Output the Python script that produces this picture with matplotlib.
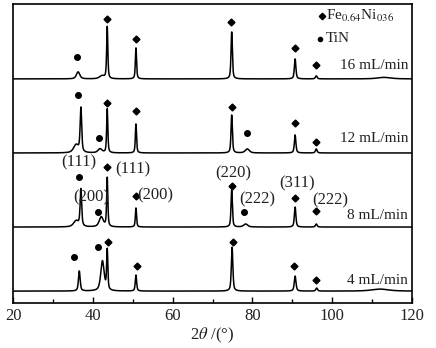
import numpy as np
import matplotlib
matplotlib.use("Agg")
import matplotlib.pyplot as plt
from matplotlib.ticker import MultipleLocator

plt.rcParams["font.family"] = ["Liberation Serif", "DejaVu Serif"]
plt.rcParams["mathtext.fontset"] = "stix"

# peak lists per flow rate: (2theta, height, fwhm); baseline offset of each trace
flows = ["16 mL/min", "12 mL/min", "8 mL/min", "4 mL/min"]
baselines = [224, 150, 76, 12]
peaks_16 = [(36.3, 7, 1.0), (42.3, 3, 1.5), (43.6, 52, 0.35), (50.8, 31, 0.35),
            (74.8, 47, 0.4), (90.7, 20, 0.45), (96.0, 3, 0.5), (113.0, 1.5, 4.0)]
peaks_12 = [(35.8, 8, 1.5), (37.0, 44, 0.45), (41.8, 4, 1.2), (43.6, 44, 0.35),
            (50.8, 29, 0.35), (74.8, 38, 0.4), (78.7, 4, 1.2), (90.7, 18, 0.45),
            (96.0, 4, 0.5)]
peaks_8 = [(35.8, 6, 1.5), (37.0, 37, 0.45), (42.1, 10, 1.2), (43.6, 49, 0.35),
           (50.8, 19, 0.35), (74.8, 37, 0.4), (78.3, 3, 1.2), (90.7, 20, 0.45),
           (96.0, 3, 0.5)]
peaks_4 = [(36.6, 20, 0.5), (42.4, 30, 1.0), (43.6, 40, 0.35), (50.8, 16, 0.4),
           (74.9, 44, 0.45), (90.7, 15, 0.5), (96.1, 3, 0.5), (112.0, 2, 5.0)]
peak_sets = [peaks_16, peaks_12, peaks_8, peaks_4]

# phase markers (2theta, height)
fe_marks = [[(43.6, 284), (50.8, 264), (74.7, 281), (90.6, 255), (96.0, 238)],
            [(43.6, 200), (50.8, 192), (74.8, 196), (90.7, 180), (96.0, 161)],
            [(43.6, 136), (50.8, 107), (74.8, 117), (90.7, 105), (96.0, 92)],
            [(43.8, 61), (51.1, 37), (75.1, 61), (90.4, 37), (95.9, 23)]]
tin_marks = [[(35.9, 246)],
             [(36.3, 208), (41.5, 165), (78.6, 170)],
             [(36.5, 126), (41.3, 91), (77.9, 91)],
             [(35.3, 46), (41.3, 56)]]
flow_label_y = [237, 164, 88, 23]

# crystal plane labels for 8 mL/min (2theta, height, text)
hkl = [(36.6, 141, "(111)"), (50.1, 134, "(111)"), (39.7, 106, "(200)"),
       (55.7, 108, "(200)"), (75.1, 130, "(220)"), (81.2, 104, "(222)"),
       (91.2, 120, "(311)"), (99.5, 103, "(222)")]


def pattern(x, peaks):
    y = np.zeros_like(x)
    for c, h, w in peaks:
        g = np.exp(-4 * np.log(2) * ((x - c) / w) ** 2)
        l = 1 / (1 + 4 * ((x - c) / w) ** 2)
        y += h * (0.4 * g + 0.6 * l)
    return y


tt = np.linspace(20, 120, 4000)
txt = "#222222"

fig = plt.figure(figsize=(4.36, 3.48), dpi=100)
ax = fig.add_axes([0.030, 0.129, 0.915, 0.860])

for i in range(4):
    ax.plot(tt, baselines[i] + pattern(tt, peak_sets[i]), color="black", lw=1.1)
    fx, fy = zip(*fe_marks[i])
    ax.plot(fx, fy, "D", color="black", ms=3.5, ls="none")
    cx, cy = zip(*tin_marks[i])
    ax.plot(cx, cy, "o", color="black", ms=4.0, ls="none")
    ax.text(119.0, flow_label_y[i], flows[i], ha="right", va="center",
            fontsize=11, color=txt)

for x, y, s in hkl:
    ax.text(x, y, s, ha="center", va="center", fontsize=12, color=txt)

# legend
ax.plot([97.4], [287], "D", color="black", ms=3.3)
ax.text(98.4, 287, "Fe$_{0.64}$Ni$_{036}$", ha="left", va="center",
        fontsize=11, color=txt)
ax.plot([96.9], [264], "o", color="black", ms=3.0)
ax.text(98.4, 264, "TiN", ha="left", va="center", fontsize=11, color=txt)

ax.set_xlim(20, 120)
ax.set_ylim(0, 299)
ax.xaxis.set_major_locator(MultipleLocator(20))
ax.xaxis.set_minor_locator(MultipleLocator(10))
ax.tick_params(axis="x", which="both", direction="in", top=False, labelsize=12,
               labelcolor=txt)
ax.tick_params(axis="x", which="major", length=4, width=1)
ax.tick_params(axis="x", which="minor", length=3, width=1)
ax.set_yticks([])
for sp in ax.spines.values():
    sp.set_linewidth(1.2)
ax.set_xlabel(r"2$\theta$ /(°)", fontsize=12, labelpad=1, color=txt)

plt.savefig("out.png", dpi=100)
plt.close()
